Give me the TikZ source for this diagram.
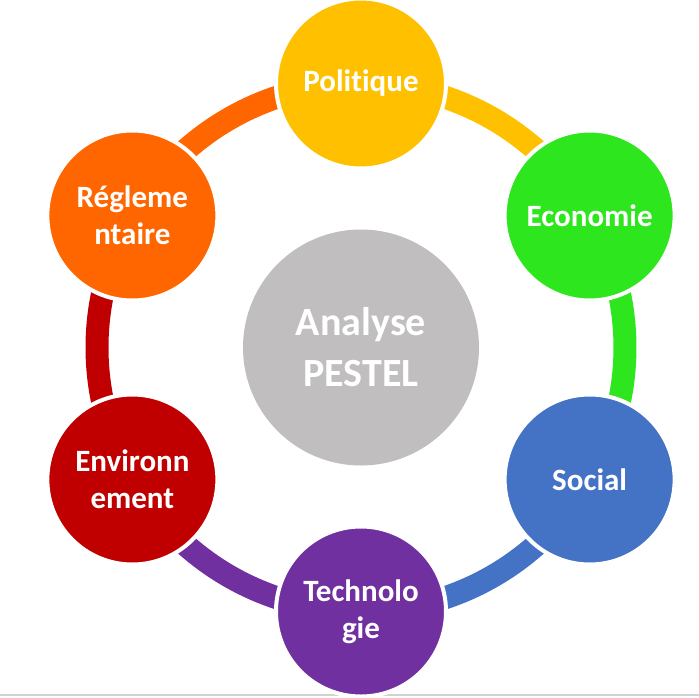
\documentclass[tikz,border=0pt]{standalone}
\usepackage{fontspec}
\newfontfamily\pestelfont[Ligatures=NoCommon]{Carlito}
\usetikzlibrary{backgrounds}
\definecolor{polcol}{HTML}{FFC000}
\definecolor{ecocol}{HTML}{2EE61E}
\definecolor{soccol}{HTML}{4472C4}
\definecolor{teccol}{HTML}{7030A0}
\definecolor{envcol}{HTML}{C00000}
\definecolor{regcol}{HTML}{FF6600}
\definecolor{anacol}{HTML}{C0BEBF}

\begin{document}
\begin{tikzpicture}[x=1pt,y=1pt,
    petal/.style={circle, draw=white, line width=4pt, minimum size=170pt, inner sep=0pt,
      text=white, align=center, font=\pestelfont\bfseries\fontsize{31}{37}\selectfont},
    ring/.style={line width=23pt}]
            \useasboundingbox (-361,-349.5) rectangle (338,347.5);
            \draw[gray!35, line width=2pt] (-361,-347.5) -- (338,-347.5);
            \node (ana) at (0,0) [circle, fill=anacol, minimum size=236pt, inner sep=0pt, text=white,
              align=center, font=\pestelfont\bfseries\fontsize{40}{51}\selectfont] {Analyse\\PESTEL};
            \node (pol) at (90:264) [petal, fill=polcol] {Politique};
            \node (eco) at (30:264) [petal, fill=ecocol] {Economie};
            \node (soc) at (-30:264) [petal, fill=soccol] {Social};
            \node (tec) at (-90:264) [petal, fill=teccol] {Technolo\\gie};
            \node (env) at (-150:264) [petal, fill=envcol] {Environn\\ement};
            \node (reg) at (150:264) [petal, fill=regcol] {Régleme\\ntaire};
            \begin{scope}[on background layer]
            \draw[ring, polcol] (pol.center) arc[start angle=90, end angle=30, radius=264];
            \draw[ring, ecocol] (eco.center) arc[start angle=30, end angle=-30, radius=264];
            \draw[ring, soccol] (soc.center) arc[start angle=-30, end angle=-90, radius=264];
            \draw[ring, teccol] (tec.center) arc[start angle=-90, end angle=-150, radius=264];
            \draw[ring, envcol] (env.center) arc[start angle=-150, end angle=-210, radius=264];
            \draw[ring, regcol] (reg.center) arc[start angle=150, end angle=90, radius=264];
            \end{scope}
        \end{tikzpicture}
\end{document}
